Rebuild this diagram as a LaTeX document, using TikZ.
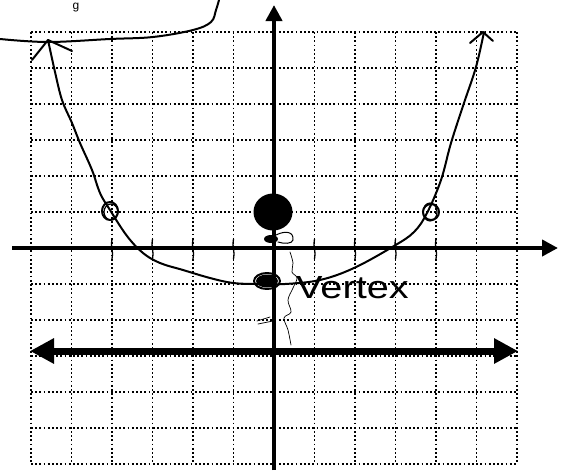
\documentclass[tikz,border=0pt]{standalone}
\usepackage{fontspec}
\setmainfont{Liberation Sans}
\usetikzlibrary{arrows.meta}
\begin{document}
\begin{tikzpicture}[x=1pt,y=-1pt,
  gridline/.style={line width=1.8pt, dash pattern=on 1.8pt off 2.4pt},
  axisline/.style={line width=4pt, -{Triangle[length=16pt,width=16pt]}},
  bigarrow/.style={line width=7pt, {Triangle[length=24pt,width=24pt]}-{Triangle[length=24pt,width=24pt]}},
  pen/.style={line width=2pt, line cap=round, line join=round},
  thinpen/.style={line width=0.7pt, line cap=round, line join=round},
  tickpen/.style={line width=1.3pt, line cap=round},
  hand/.style={font=\fontsize{32}{32}\selectfont, inner sep=0pt},
]
\useasboundingbox (0,0) rectangle (568,472);
\fill[white] (0,0) rectangle (568,472);
% dotted grid
\foreach \i in {0,...,12} {
  \draw[gridline] ({31+40.5*\i},32) -- ({31+40.5*\i},464);
  \draw[gridline] (31,{32+36*\i}) -- (517,{32+36*\i});
}
% axes
\coordinate (xl) at (12,248);
\coordinate (xr) at (558,248);
\coordinate (yb) at (274,470);
\coordinate (yt) at (274,5);
\draw[axisline] (xl) -- (xr);
\draw[axisline] (yb) -- (yt);
% tick scribbles
\foreach \i in {-4,-3,-2,-1,1,2,3,4} {
  \draw[tickpen] ({274+40.5*\i},239) .. controls ({272+40.5*\i},246) and ({276+40.5*\i},252) .. ({274+40.5*\i},259);
}
% thick double arrow
\coordinate (hl) at (30,351);
\coordinate (hr) at (518,351);
\draw[bigarrow] (hl) -- (hr);
% hand-drawn curve
\draw[pen] plot[smooth, tension=0.6] coordinates {(48,40) (55,72) (62,100) (72,123) (80,143) (92,170) (100,193) (110,210) (127,236) (143,253) (160,263) (183,270) (210,278) (233,283) (257,284) (285,284) (320,280) (354,268) (394,246) (414,232) (427,213) (441,180) (451,143) (464,103) (476,67) (484,32)};
\coordinate (lt) at (48,40);
\coordinate (rt) at (483,32);
\draw[pen] (32,60) -- (lt) -- (72,51);
\draw[pen] (470,43) -- (rt) -- (493,41);
% top-left hand line
\draw[pen] plot[smooth, tension=0.6] coordinates {(0,39) (48,42) (110,39) (153,37) (193,30) (211,22) (216,10) (219,0)};
\node[font=\fontsize{12}{12}\selectfont, inner sep=0pt, anchor=north] (g) at (76,3) {g};
% open circles
\coordinate (pl) at (110,211);
\coordinate (pr) at (431,212);
\draw[pen] (pl) ellipse (8pt and 9pt);
\draw[thinpen, line width=1.2pt] ([xshift=1pt,yshift=-1pt]pl) ellipse (7pt and 8pt);
\draw[pen] (pr) ellipse (8pt and 8pt);
\draw[thinpen, line width=1.2pt] ([xshift=-1pt]pr) ellipse (7pt and 9pt);
% big dot
\fill (273,212) ellipse (19.5pt and 18.5pt);
% small blob and loop under the dot
\fill (271,239) ellipse (7pt and 4pt);
\draw[thinpen, line width=1pt] (276,235) .. controls (286,230) and (294,232) .. (293,240) .. controls (292,244) and (284,244) .. (278,242);
% vertex mark
\coordinate (vx) at (267,281);
\fill (vx) ellipse (11pt and 6.5pt);
\draw[pen] (vx) ellipse (13pt and 8pt);
% thin brace scribble
\draw[thinpen] plot[smooth, tension=0.6] coordinates {(290,252) (293,263) (292,272) (297,278) (293,288) (288,300) (291,312) (284,318) (288,330) (291,345)};
\draw[thinpen] (257,321) -- (270,317);
\draw[thinpen] (258,324) -- (273,321);
% label
\node[hand, anchor=base west] (vtext) at (296,298) {\scalebox{1.24}[1]{Vertex}};
\end{tikzpicture}
\end{document}
